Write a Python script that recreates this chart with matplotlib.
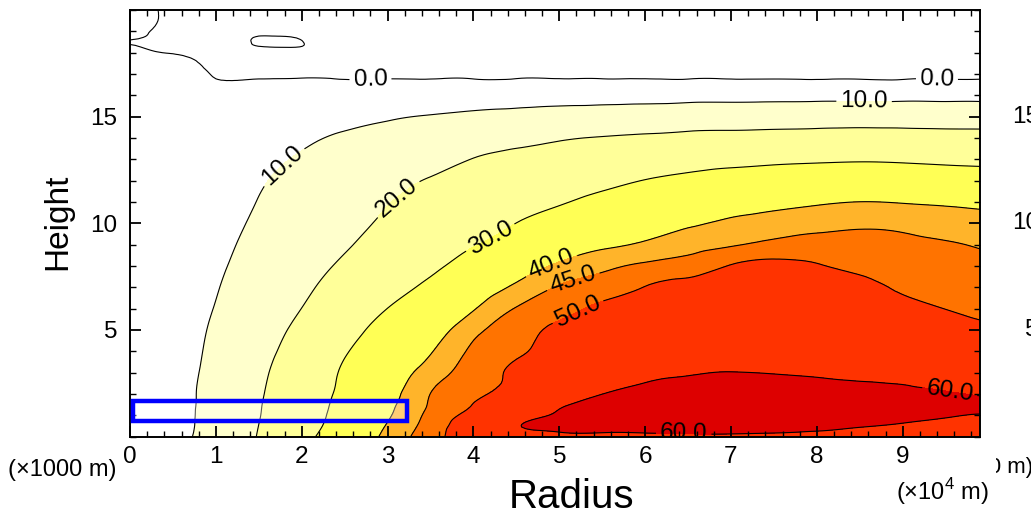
import numpy as np
import matplotlib
matplotlib.use('Agg')
import matplotlib.pyplot as plt
import matplotlib.tri as mtri
from matplotlib.patches import Rectangle
from matplotlib.ticker import MultipleLocator, FixedLocator
from matplotlib.transforms import Bbox, TransformedBbox

plt.rcParams['font.family'] = ['Liberation Sans', 'DejaVu Sans']
plt.rcParams['mathtext.fontset'] = 'custom'
plt.rcParams['mathtext.rm'] = 'Liberation Sans'

# Grid of the field -------------------------------------------------------
radius = [0, 0.5, 1, 1.5, 2, 2.5, 3, 3.5, 4, 4.5, 5, 5.5, 6, 6.5, 7, 7.5, 8, 8.5, 9, 9.5, 9.9]   # x 10^4 m
height = [0, 0.5, 1, 1.5, 2, 3, 4, 5, 6, 7, 8, 9, 10, 11, 12, 13, 14, 15, 16, 17, 18, 18.5, 19, 20]  # km

speed = [
    [1, 7.1, 13.6, 20.4, 27.6, 34.7, 41.4, 47.9, 53.0, 55.5, 57.5, 57.5, 58.0, 58.3, 58.5, 58.3, 58.0, 57.2, 56.0, 55.0, 54.0],
    [1, 6.9, 13.2, 20.05, 26.7, 33.5, 40.4, 47.1, 53.3, 59.5, 62.0, 62.8, 63.2, 63.6, 63.6, 63.0, 61.8, 60.5, 59.2, 58.0, 57.0],
    [1, 6.8, 13.1, 19.7, 26.2, 32.7, 39.3, 46.3, 51.5, 56.7, 61.0, 62.8, 64.0, 64.7, 65.0, 64.8, 64.0, 63.0, 61.8, 60.5, 59.8],
    [1, 6.8, 12.9, 19.5, 25.8, 32.2, 38.5, 45.5, 50.1, 54.5, 59.1, 61.5, 62.8, 63.6, 64.0, 63.8, 63.2, 62.5, 61.8, 61.0, 60.6],
    [1, 6.8, 12.8, 19.2, 25.4, 31.6, 37.6, 45.05, 49.0, 52.4, 56.2, 59.95, 61.3, 62.1, 62.5, 62.4, 61.9, 61.3, 60.8, 60.3, 59.8],
    [1, 6.6, 12.3, 18.5, 24.75, 30.9, 36.4, 42.4, 47.5, 50.8, 53.2, 56.0, 58.7, 59.6, 60.1, 59.8, 59.3, 58.85, 58.5, 57.3, 56.5],
    [1, 6.3, 11.7, 17.5, 23.4, 29.4, 34.5, 39.6, 46.0, 49.3, 52.0, 54.0, 55.5, 56.5, 57.0, 56.8, 56.2, 55.5, 54.6, 53.5, 52.8],
    [1, 6.0, 11.1, 16.4, 21.8, 27.3, 32.5, 37.1, 43.5, 48.0, 51.0, 52.5, 53.6, 54.3, 54.7, 54.7, 54.3, 53.5, 52.5, 51.3, 50.6],
    [1, 5.6, 10.3, 15.1, 20.05, 25.0, 30.05, 34.4, 39.6, 45.3, 48.5, 50.8, 51.4, 52.0, 52.4, 52.5, 52.3, 51.7, 50.9, 49.95, 49.3],
    [1, 5.3, 9.6, 14.1, 18.6, 23.0, 27.3, 31.5, 36.3, 41.0, 45.5, 47.9, 50.1, 51.3, 51.7, 52.2, 51.5, 50.8, 49.55, 48.5, 47.8],
    [1, 4.9, 8.9, 13.0, 17.1, 21.1, 24.9, 28.6, 32.8, 36.8, 40.9, 43.6, 46.0, 47.4, 50.3, 51.4, 50.33, 49.1, 47.8, 47.0, 46.3],
    [1, 4.6, 8.3, 11.9, 15.6, 19.3, 22.8, 26.5, 29.7, 33.0, 37.0, 39.1, 40.75, 43.0, 44.5, 46.3, 47.0, 46.8, 46.15, 45.45, 44.6],
    [1, 4.3, 7.7, 11.0, 14.5, 17.9, 21.2, 24.7, 27.3, 30.05, 33.2, 35.5, 37.1, 39.2, 40.9, 42.2, 43.4, 44.2, 43.8, 42.7, 42.0],
    [1, 4.1, 7.1, 10.2, 13.4, 16.5, 19.7, 22.6, 25.0, 27.2, 29.4, 31.8, 33.6, 35.5, 36.9, 38.2, 39.25, 40.05, 39.7, 39.2, 38.7],
    [1, 3.8, 6.6, 9.4, 12.2, 15.1, 17.9, 20.5, 22.6, 24.4, 26.2, 28.1, 30.2, 31.7, 32.7, 33.6, 34.25, 34.7, 34.5, 34.0, 33.6],
    [1, 3.4, 5.9, 8.3, 10.7, 13.2, 15.6, 17.4, 20.2, 21.7, 22.9, 24.2, 25.7, 27.2, 28.1, 28.7, 29.1, 29.4, 29.1, 28.6, 28.3],
    [1, 3.0, 4.9, 6.9, 8.8, 11.0, 12.4, 13.9, 15.9, 17.8, 19.3, 20.4, 21.2, 22.1, 22.5, 22.9, 23.2, 23.6, 23.2, 22.9, 22.8],
    [1, 2.4, 3.8, 5.2, 6.6, 8.0, 9.4, 10.35, 11.3, 12.2, 13.1, 13.7, 14.3, 15.0, 15.3, 15.6, 15.9, 16.0, 16.1, 15.8, 15.8],
    [1, 2.1, 2.0, 3.0, 3.8, 4.2, 4.6, 4.9, 5.4, 5.9, 6.3, 6.4, 6.6, 6.8, 6.9, 7.0, 7.1, 7.1, 7.1, 7.1, 7.1],
    [0.9, 1.9, -0.3, -0.75, -0.7, -0.75, -0.75, -0.8, -0.9, -1.0, -1.1, -1.1, -1.2, -1.2, -1.2, -1.2, -1.3, -1.3, -1.3, -1.3, -1.3],
    [0.5, -0.1, -0.6, -0.6, -0.6, -0.8, -0.9, -1.0, -1.1, -1.2, -1.2, -1.3, -1.3, -1.3, -1.4, -1.4, -1.4, -1.5, -1.5, -1.5, -1.5],
    [-0.05, -0.5, -1.2, 0.2, 0.05, -1.5, -1.2, -1.2, -1.3, -1.3, -1.3, -1.4, -1.4, -1.4, -1.4, -1.5, -1.5, -1.5, -1.5, -1.5, -1.5],
    [0.4, -0.3, -0.5, -0.4, -0.4, -0.8, -1.0, -1.0, -1.1, -1.1, -1.2, -1.2, -1.2, -1.2, -1.3, -1.3, -1.3, -1.3, -1.3, -1.3, -1.3],
    [0.8, -0.35, -0.5, -0.6, -0.6, -0.7, -0.8, -0.8, -0.9, -0.9, -1.0, -1.0, -1.0, -1.0, -1.0, -1.0, -1.0, -1.0, -1.0, -1.0, -1.0],
]

fill_levels = [-10, 10, 20, 30, 40, 45, 50, 60, 100]
fill_colors = ['white', '#FFFFCC', '#FFFF99', '#FFFF55', '#FFB42A', '#FF7300', '#FF3300', '#DD0000']
line_levels = [0, 10, 20, 30, 40, 45, 50, 60]

# where the contour labels sit (data coords)
label_spots = [(2.8, 16.85), (9.4, 16.85), (8.55, 15.65), (1.8, 12.6), (3.15, 11.0),
               (4.2, 9.3), (4.9, 8.1), (5.15, 7.45), (5.2, 6.0), (6.45, 0.2), (9.55, 2.15)]

# blue box: radius 0..3.2, height 0.75..1.7
box_r = [0.04, 3.23]
box_h = [0.75, 1.68]

# Figure -------------------------------------------------------------------
fig = plt.figure(figsize=(10.31, 5.17), dpi=100)
ax = fig.add_axes([0.1261, 0.1557, 0.8244, 0.8248])

R, H = np.meshgrid(radius, height)
Z = np.array(speed)

# smooth the coarse grid with matplotlib's own cubic refiner
tri = mtri.Triangulation(R.ravel(), H.ravel())
interp = mtri.CubicTriInterpolator(tri, Z.ravel(), kind='min_E')
tri_f, z_f = mtri.UniformTriRefiner(tri).refine_field(Z.ravel(), triinterpolator=interp, subdiv=3)

ax.tricontourf(tri_f, z_f, levels=fill_levels, colors=fill_colors)
cs = ax.tricontour(tri_f, z_f, levels=line_levels, colors='black', linewidths=0.8)
ax.clabel(cs, fmt='%.1f', fontsize=17.5, inline=True, inline_spacing=4, manual=label_spots)

ax.add_patch(Rectangle((box_r[0], box_h[0]), box_r[1] - box_r[0], box_h[1] - box_h[0],
                       facecolor=(1, 1, 1, 0.35), edgecolor='#0000FF', linewidth=3.2, zorder=5))

ax.set_xlim(0, 9.9)
ax.set_ylim(0, 20)
ax.xaxis.set_major_locator(MultipleLocator(1))
ax.xaxis.set_minor_locator(MultipleLocator(0.2))
ax.yaxis.set_major_locator(FixedLocator([5, 10, 15]))
ax.yaxis.set_minor_locator(MultipleLocator(1))
ax.tick_params(which='both', direction='in', top=True, right=True, labelsize=17.5)
ax.tick_params(which='major', length=8, width=1.3)
ax.tick_params(which='minor', length=4, width=1.0)
ax.tick_params(axis='x', pad=7)
ax.tick_params(axis='y', pad=9)
for sp in ax.spines.values():
    sp.set_linewidth(1.4)

fig.text(572 / 1031, 1 - 497 / 517, 'Radius', fontsize=29, ha='center', va='center')
fig.text(58 / 1031, 1 - 222 / 517, 'Height', fontsize=24, ha='center', va='center', rotation=90)
fig.text(117 / 1031, 1 - 470 / 517, '(×1000 m)', fontsize=17, ha='right', va='center')
fig.text(989 / 1031, 1 - 492 / 517, r'(×10$^4$ m)', fontsize=17, ha='right', va='center')

# neighbouring panel, cut off at the right edge
for v in [5, 10, 15]:
    fig.text(1039 / 1031, ax.transData.transform((0, v))[1] / 517, str(v),
             fontsize=17.5, ha='right', va='center')
t = fig.text(1033 / 1031, 1 - 467 / 517, '(×1000 m)', fontsize=16, ha='right', va='center')
t.set_clip_box(TransformedBbox(Bbox([[996 / 1031, 0], [1.2, 1]]), fig.transFigure))
t.set_clip_on(True)

fig.savefig('out.png', dpi=100)
